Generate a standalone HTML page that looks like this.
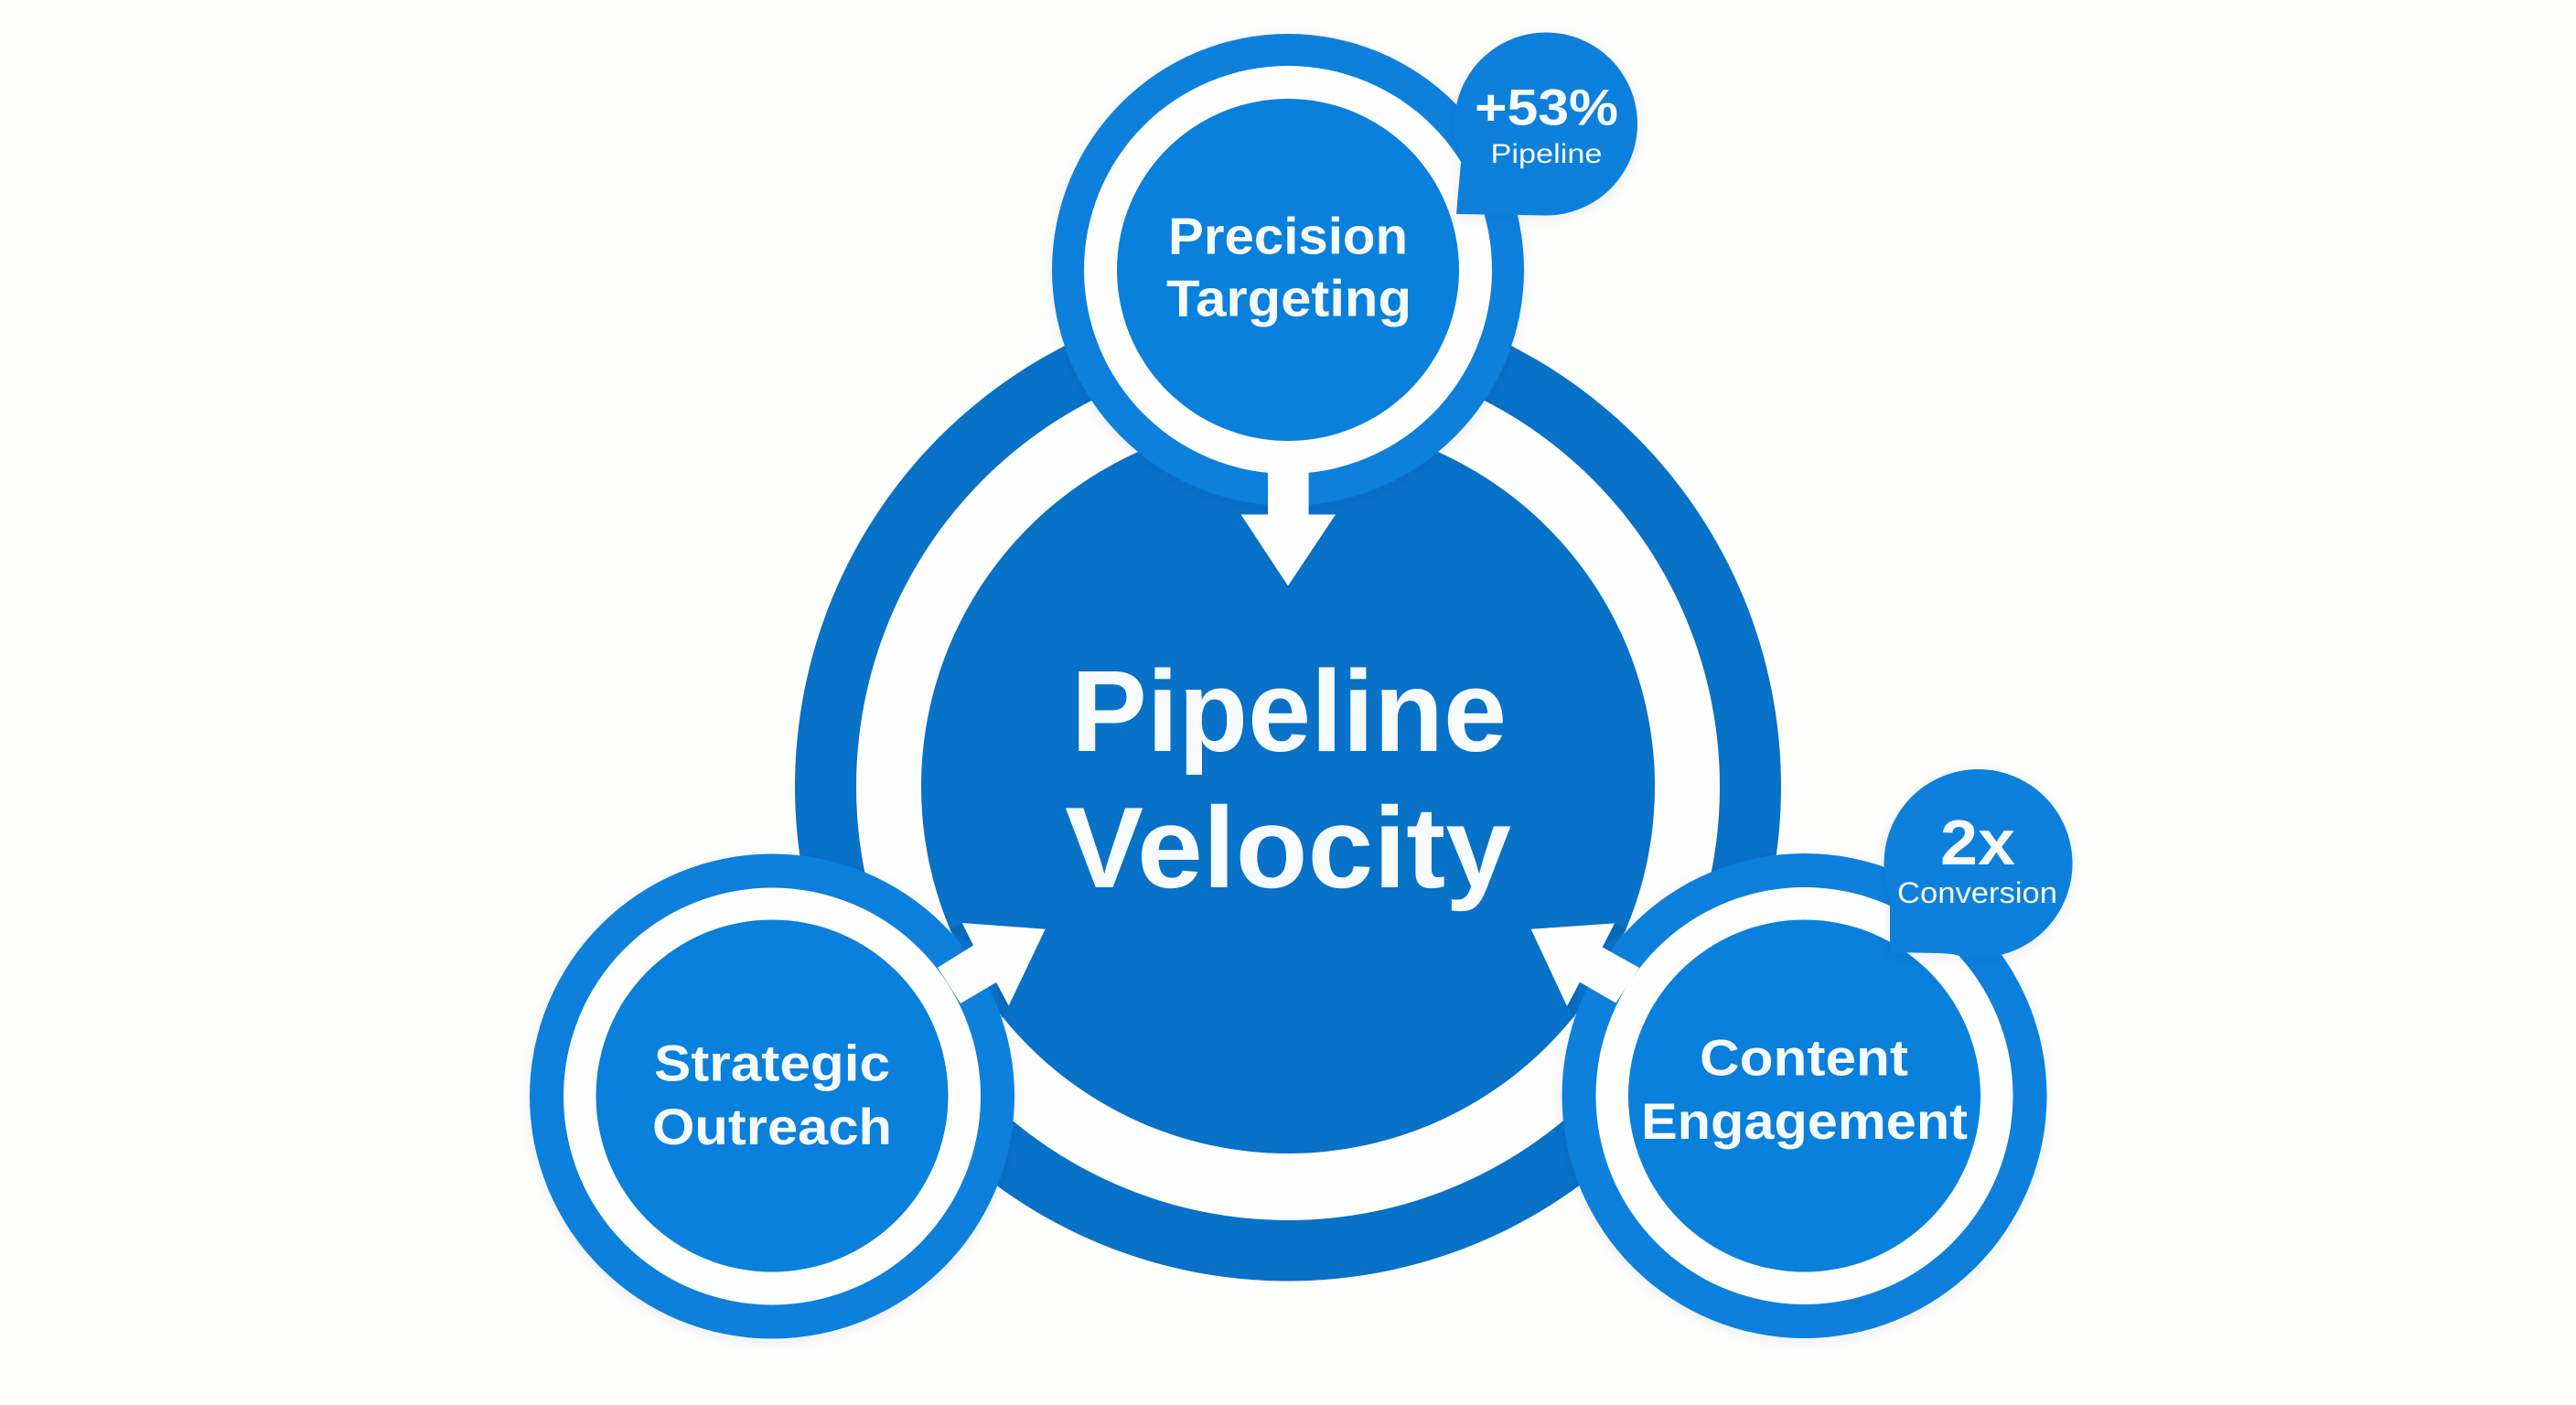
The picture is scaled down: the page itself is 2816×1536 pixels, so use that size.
<!DOCTYPE html>
<html>
<head>
<meta charset="utf-8">
<title>Pipeline Velocity</title>
<style>
html,body{margin:0;padding:0;background:#fefefd;width:2816px;height:1536px;overflow:hidden}
svg{display:block}
text{font-family:"Liberation Sans",sans-serif;font-weight:700;fill:#f6fafd}
.light{font-weight:400}
</style>
</head>
<body>
<svg width="2816" height="1536" viewBox="0 0 2816 1536" xmlns="http://www.w3.org/2000/svg">
<defs>
<filter id="s" x="-20%" y="-20%" width="140%" height="140%"><feDropShadow dx="0" dy="3" stdDeviation="6" flood-color="#123a66" flood-opacity=".09"/></filter>
</defs>
<rect width="2816" height="1536" fill="#fefefd"/>

<!-- central -->
<ellipse cx="1408" cy="860" rx="539" ry="540.5" fill="#0871c8"/>
<ellipse cx="1408" cy="860" rx="472" ry="474" fill="#fefefe"/>
<circle cx="1408" cy="860" r="401" fill="#0871c8"/>

<!-- top node -->
<g filter="url(#s)">
<circle cx="1408" cy="295" r="258" fill="#0880dc"/>
</g>
<circle cx="1408" cy="295" r="223" fill="#fefefe"/>
<circle cx="1408" cy="295" r="187" fill="#0880dc"/>

<!-- left node -->
<g filter="url(#s)">
<circle cx="844" cy="1198.5" r="265" fill="#0880dc"/>
</g>
<circle cx="844" cy="1198.5" r="228" fill="#fefefe"/>
<circle cx="844" cy="1198" r="192.5" fill="#0880dc"/>

<!-- right node -->
<g filter="url(#s)">
<circle cx="1972.5" cy="1198" r="265" fill="#0880dc"/>
</g>
<circle cx="1972.5" cy="1198" r="228" fill="#fefefe"/>
<circle cx="1972.5" cy="1198" r="192.5" fill="#0880dc"/>

<!-- shading beside arrows -->
<polygon points="1038,1017 1052,1009 1065,1034" fill="#0669ba"/>
<polygon points="1089,1074 1103,1100 1095,1113" fill="#0669ba"/>
<polygon points="1778,1017 1765,1009 1751.7,1035" fill="#0669ba"/>
<polygon points="1727,1074 1713,1100 1721,1113" fill="#0669ba"/>

<!-- arrows -->
<polygon points="1386,510 1430.6,510 1430.6,562.5 1460,562.5 1408,640.5 1356.6,562.5 1386,562.5" fill="#fefefe"/>
<polygon points="1025,1057.7 1064,1033.5 1051.7,1009 1142.7,1015.7 1102.7,1099.5 1089,1074 1050,1097" fill="#fefefe"/>
<polygon points="1792,1058 1751.7,1035.5 1765,1009.4 1673.6,1015.7 1713,1100 1727,1073.8 1766.4,1096.5" fill="#fefefe"/>

<!-- badges -->
<g filter="url(#s)">
<path d="M1597,178 L1592,234 L1690,235.5 L1720,180 L1640,110 Z" fill="#0880dc"/>
<circle cx="1690" cy="135.5" r="100" fill="#0880dc"/>
</g>
<g filter="url(#s)">
<path d="M2066,985 L2066,1041 L2120,1042 L2180,1046 L2230,1000 L2150,930 Z" fill="#0880dc"/>
<circle cx="2162.5" cy="944" r="103" fill="#0880dc"/>
</g>

<!-- labels -->
<text x="1171" y="821" font-size="126" textLength="476" lengthAdjust="spacingAndGlyphs">Pipeline</text>
<text x="1164" y="970" font-size="126" textLength="488" lengthAdjust="spacingAndGlyphs">Velocity</text>

<text x="1277" y="277.5" font-size="57" textLength="262" lengthAdjust="spacingAndGlyphs">Precision</text>
<text x="1275" y="345.6" font-size="57" textLength="268" lengthAdjust="spacingAndGlyphs">Targeting</text>

<text x="715" y="1181.6" font-size="56" textLength="258" lengthAdjust="spacingAndGlyphs">Strategic</text>
<text x="713" y="1251" font-size="56" textLength="262" lengthAdjust="spacingAndGlyphs">Outreach</text>

<text x="1858" y="1175.6" font-size="56" textLength="228" lengthAdjust="spacingAndGlyphs">Content</text>
<text x="1794" y="1245" font-size="56" textLength="357" lengthAdjust="spacingAndGlyphs">Engagement</text>

<text x="1612" y="136.6" font-size="56" textLength="157" lengthAdjust="spacingAndGlyphs">+53%</text>
<text class="light" x="1629.5" y="178" font-size="30" textLength="122" lengthAdjust="spacingAndGlyphs">Pipeline</text>

<text x="2121" y="945" font-size="70" textLength="82" lengthAdjust="spacingAndGlyphs">2x</text>
<text class="light" x="2074" y="987" font-size="32" textLength="175" lengthAdjust="spacingAndGlyphs">Conversion</text>
</svg>
</body>
</html>
